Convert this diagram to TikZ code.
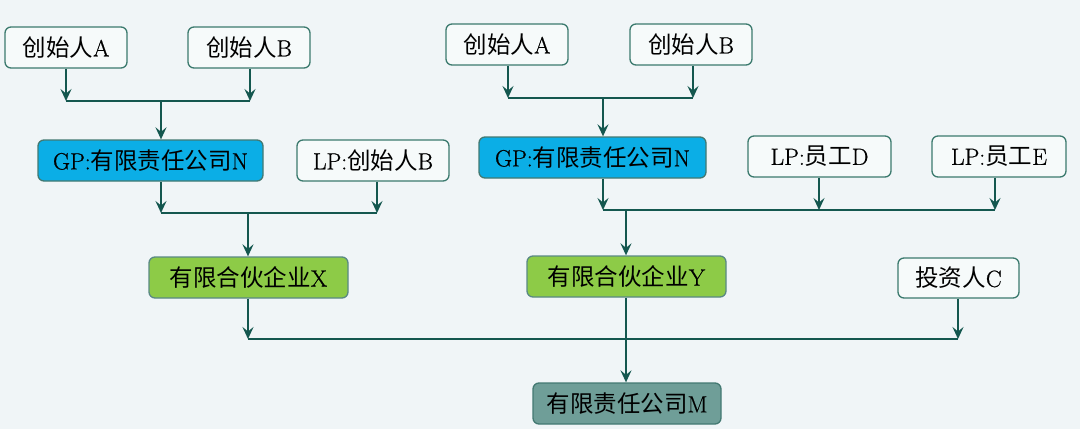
\documentclass[tikz,border=0pt]{standalone}
\usepackage{fontspec}
\setmainfont{Latin Modern Roman}[RawFeature={embolden=0.8}]
\newfontfamily\cjk{Noto Sans CJK SC}
\usetikzlibrary{arrows.meta}
\definecolor{bgc}{HTML}{F0F5F7}
\definecolor{linec}{HTML}{14574F}
\definecolor{bordc}{HTML}{3B7A6E}
\definecolor{boxw}{HTML}{F6FAFA}
\definecolor{gpblue}{HTML}{0BAEE6}
\definecolor{lpgreen}{HTML}{8DCB47}
\definecolor{mgray}{HTML}{6F9E98}
\tikzset{
  box/.style={draw=bordc, line width=1.3pt, rounded corners=6pt, fill=boxw,
    minimum height=41pt, inner sep=0pt, font=\fontsize{23.5}{26}\selectfont, text=black},
  gpbox/.style={box, fill=gpblue, draw=linec!80},
  lpbox/.style={box, fill=lpgreen, draw=linec!70},
  mbox/.style={box, fill=mgray, draw=linec!80},
  arr/.style={draw=linec, line width=2.3pt, -{Stealth[length=12pt,width=11pt,inset=4.5pt]}},
  ln/.style={draw=linec, line width=2.3pt},
}
\begin{document}
\begin{tikzpicture}[x=1pt,y=-1pt]
\fill[bgc] (0,0) rectangle (1080,429);
\useasboundingbox (0,0) rectangle (1080,429);
% left group
\node[box, minimum width=122pt] (lA) at (66,47.5) {{\cjk 创始人}A};
\node[box, minimum width=122pt] (lB) at (249,47.5) {{\cjk 创始人}B};
\node[gpbox, minimum width=225pt] (lGP) at (150.5,160.5) {GP:{\cjk 有限责任公司}N};
\node[box, minimum width=152pt] (lLP) at (373,160.5) {LP:{\cjk 创始人}B};
\node[lpbox, minimum width=199pt] (X) at (248.5,277.5) {{\cjk 有限合伙企业}X};
% right group
\node[box, minimum width=122pt] (rA) at (507,44.5) {{\cjk 创始人}A};
\node[box, minimum width=122pt] (rB) at (691,44.5) {{\cjk 创始人}B};
\node[gpbox, minimum width=227pt] (rGP) at (592.5,157.5) {GP:{\cjk 有限责任公司}N};
\node[box, minimum width=143pt] (D) at (819.5,156.5) {LP:{\cjk 员工}D};
\node[box, minimum width=134pt] (E) at (999,156.5) {LP:{\cjk 员工}E};
\node[lpbox, minimum width=199pt] (Y) at (626.5,276.5) {{\cjk 有限合伙企业}Y};
\node[box, minimum width=121pt, minimum height=40pt] (C) at (958.5,278) {{\cjk 投资人}C};
\node[mbox, minimum width=188pt] (M) at (627,403.5) {{\cjk 有限责任公司}M};
% junction coordinates
\coordinate (j1a) at (66,101);
\coordinate (j1b) at (250,101);
\coordinate (j1c) at (161,101);
\coordinate (j2a) at (161,213);
\coordinate (j2b) at (377,213);
\coordinate (j2c) at (248,213);
\coordinate (j3a) at (248,339);
\coordinate (j3b) at (958,339);
\coordinate (k1a) at (508,98);
\coordinate (k1b) at (693,98);
\coordinate (k1c) at (603,98);
\coordinate (k2a) at (603,210);
\coordinate (k2b) at (819,210);
\coordinate (k2c) at (995,210);
\coordinate (k2d) at (626,210);
% left connectors
\draw[arr] (lA.south -| j1a) -- (j1a);
\draw[arr] (lB.south -| j1b) -- (j1b);
\draw[ln] (j1a) -- (j1b);
\draw[arr] (j1c) -- (lGP.north -| j1c);
\draw[arr] (lGP.south -| j2a) -- (j2a);
\draw[arr] (lLP.south -| j2b) -- (j2b);
\draw[ln] (j2a) -- (j2b);
\draw[arr] (j2c) -- (X.north -| j2c);
\draw[arr] (X.south -| j3a) -- (j3a);
\draw[ln] (j3a) -- (j3b);
\draw[arr] (C.south -| j3b) -- (j3b);
% right connectors
\draw[arr] (rA.south -| k1a) -- (k1a);
\draw[arr] (rB.south -| k1b) -- (k1b);
\draw[ln] (k1a) -- (k1b);
\draw[arr] (k1c) -- (rGP.north -| k1c);
\draw[arr] (rGP.south -| k2a) -- (k2a);
\draw[arr] (D.south -| k2b) -- (k2b);
\draw[arr] (E.south -| k2c) -- (k2c);
\draw[ln] (k2a) -- (k2c);
\draw[arr] (k2d) -- (Y.north -| k2d);
\draw[arr] (Y.south -| k2d) -- (M.north -| k2d);
\end{tikzpicture}
\end{document}
